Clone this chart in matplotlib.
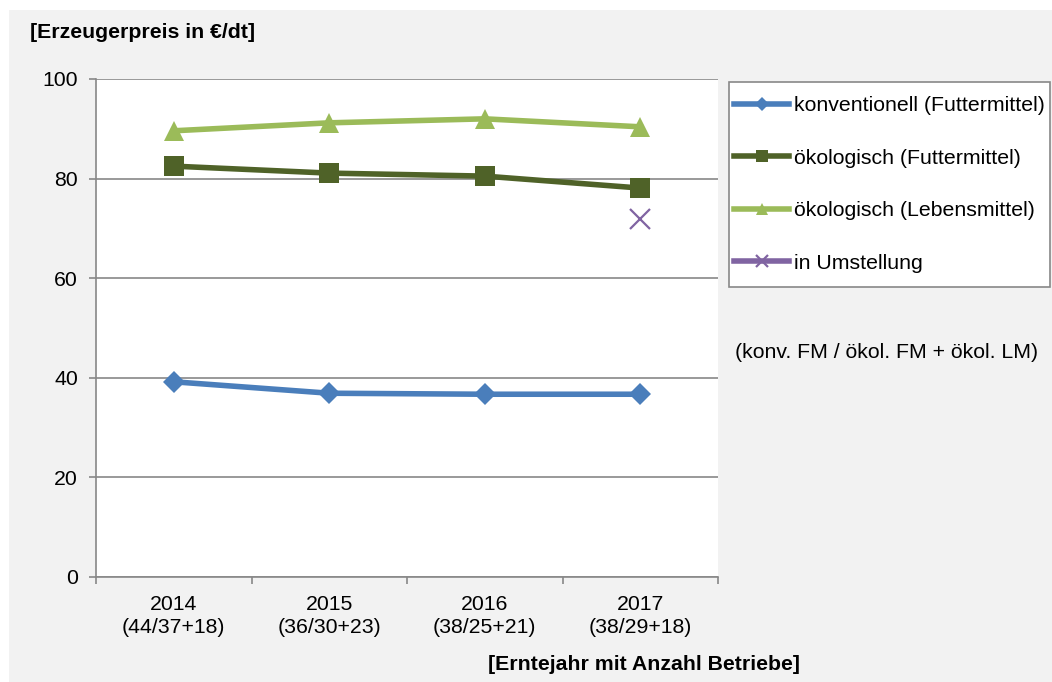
import numpy as np
import matplotlib.pyplot as plt
from matplotlib.patches import Rectangle

plt.rcParams['font.family'] = ['Liberation Sans', 'DejaVu Sans']

# Daten
jahre = ["2014", "2015", "2016", "2017"]
betriebe = ["(44/37+18)", "(36/30+23)", "(38/25+21)", "(38/29+18)"]
konv_fm = [39.2, 36.9, 36.7, 36.7]
oeko_fm = [82.5, 81.1, 80.5, 78.1]
oeko_lm = [89.6, 91.2, 92.0, 90.4]
umstellung = [np.nan, np.nan, np.nan, 71.9]

labels = ["konventionell (Futtermittel)", "ökologisch (Futtermittel)",
          "ökologisch (Lebensmittel)", "in Umstellung"]

W, H = 1052, 682
fig = plt.figure(figsize=(W / 100, H / 100), dpi=100, facecolor='white')
fig.patches.append(Rectangle((9 / W, 0), 1, 1 - 10 / H, transform=fig.transFigure,
                             facecolor='#f2f2f2', edgecolor='none', zorder=-10))

ax = fig.add_axes([96 / W, 1 - 577 / H, (718 - 96) / W, (577 - 79) / H])
ax.set_facecolor('white')

grau = '#888888'
fs = 15.3
x = np.arange(len(jahre)) + 0.5

ax.plot(x, konv_fm, color='#4a7ebb', lw=4, marker='D', ms=11.5, mew=0, label=labels[0], zorder=3)
ax.plot(x, oeko_fm, color='#4f6228', lw=4, marker='s', ms=14, mew=0, label=labels[1], zorder=3)
ax.plot(x, oeko_lm, color='#9bbb59', lw=4, marker='^', ms=15, mew=0, label=labels[2], zorder=3)
ax.plot(x, umstellung, color='#8064a2', lw=4, marker='x', ms=14, mew=1.6, label=labels[3],
        linestyle='-', zorder=3)

ax.set_xlim(0, 4)
ax.set_ylim(0, 100)
ax.set_yticks([0, 20, 40, 60, 80, 100])
ax.yaxis.grid(True, color=grau, lw=1.2)
ax.set_axisbelow(True)

ax.set_xticks([0, 1, 2, 3, 4])
ax.set_xticklabels([])
ax.set_xticks(x, minor=True)
ax.set_xticklabels([f"{j}\n{b}" for j, b in zip(jahre, betriebe)], minor=True,
                   fontsize=fs, linespacing=1.25)
ax.tick_params(axis='x', which='major', direction='out', length=5, width=1.2, color=grau)
ax.tick_params(axis='x', which='minor', length=0, pad=13)
ax.tick_params(axis='y', direction='out', length=5, width=1.2, color=grau, labelsize=fs, pad=8)

for s in ['top', 'right']:
    ax.spines[s].set_visible(False)
for s in ['left', 'bottom']:
    ax.spines[s].set_color(grau)
    ax.spines[s].set_linewidth(1.2)

# Legendenrahmen separat zeichnen
fig.patches.append(Rectangle((729 / W, 1 - 287 / H), (1050 - 729) / W, (287 - 82) / H,
                             transform=fig.transFigure, facecolor='white',
                             edgecolor=grau, lw=1.2, zorder=-5))
leg = ax.legend(loc='upper left', bbox_to_anchor=(734 / W, 1 - 96 / H),
                bbox_transform=fig.transFigure, borderaxespad=0, borderpad=0,
                fontsize=fs, frameon=False, handlelength=2.6, handletextpad=0.2,
                labelspacing=1.58, markerscale=0.6)

fig.text(30 / W, 1 - 32 / H, "[Erzeugerpreis in €/dt]", fontsize=fs, fontweight='bold',
         ha='left', va='center')
fig.text(800 / W, 1 - 665 / H, "[Erntejahr mit Anzahl Betriebe]", fontsize=fs,
         fontweight='bold', ha='right', va='center')
fig.text(735 / W, 1 - 352 / H, "(konv. FM / ökol. FM + ökol. LM)", fontsize=fs,
         ha='left', va='center')

fig.savefig('out.png', dpi=100)
